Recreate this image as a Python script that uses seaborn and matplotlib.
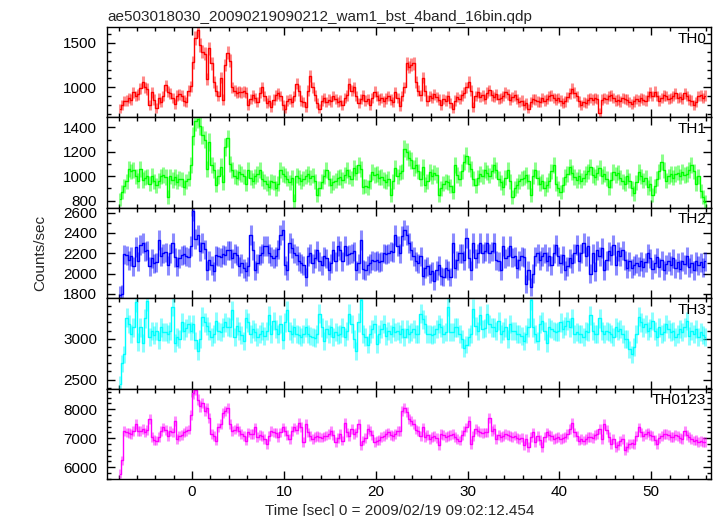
import numpy as np
import matplotlib
matplotlib.use("Agg")
import matplotlib.pyplot as plt
import seaborn as sns
from matplotlib.ticker import MultipleLocator

# ----- light curves, 0.25 s bins (counts/sec) -----
bin_size = 0.25
t_first = -7.875

th0 = [
    760, 800, 845, 850, 880, 860, 945, 900, 920, 990, 1060, 1000, 980, 800, 945, 860,
    765, 875, 830, 900, 1020, 950, 930, 880, 815, 905, 920, 905, 850, 835, 960, 1010,
    1280, 1560, 1650, 1480, 1400, 1380, 1090, 1440, 1270, 1060, 960, 900, 1110, 860, 1250, 1390,
    1300, 1000, 960, 940, 950, 945, 955, 940, 800, 870, 910, 880, 830, 940, 1000, 900,
    820, 850, 780, 860, 910, 930, 900, 800, 760, 850, 870, 830, 900, 1040, 960, 850,
    830, 780, 960, 1130, 1000, 910, 820, 760, 850, 880, 830, 860, 840, 900, 870, 830,
    850, 795, 880, 910, 1040, 960, 1000, 900, 820, 870, 910, 850, 870, 795, 880, 950,
    900, 860, 880, 840, 875, 900, 860, 830, 945, 880, 790, 900, 1000, 1270, 1230, 1255,
    1270, 1060, 960, 910, 1110, 960, 850, 900, 880, 920, 890, 860, 795, 870, 850, 900,
    820, 760, 850, 890, 870, 910, 940, 1000, 1060, 960, 780, 900, 945, 890, 910, 870,
    940, 965, 910, 890, 920, 870, 880, 900, 945, 920, 860, 890, 910, 870, 830, 850,
    795, 820, 760, 830, 870, 860, 840, 830, 880, 850, 870, 900, 910, 880, 860, 880,
    850, 820, 840, 890, 930, 985, 940, 900, 840, 795, 830, 820, 860, 880, 860, 880,
    870, 710, 860, 880, 870, 900, 910, 880, 850, 860, 840, 880, 870, 860, 830, 815,
    840, 870, 850, 880, 860, 850, 900, 945, 900, 950, 900, 850, 880, 910, 900, 870,
    880, 900, 930, 880, 890, 870, 930, 900, 860, 850, 800, 830, 900, 910, 880, 905,
]

th1 = [
    810, 870, 920, 960, 1060, 1040, 1050, 1000, 965, 1060, 970, 990, 1000, 940, 1005, 960,
    925, 965, 1000, 1010, 995, 830, 1000, 970, 995, 955, 980, 975, 910, 960, 980, 1090,
    1330, 1450, 1470, 1410, 1340, 1300, 1060, 1280, 1090, 1050, 930, 1000, 1080, 950, 1240, 1310,
    1100, 1050, 1000, 990, 1035, 1020, 1000, 940, 1050, 990, 965, 1000, 1020, 1050, 980, 960,
    940, 910, 960, 950, 900, 940, 1050, 1020, 1005, 980, 950, 990, 800, 1005, 990, 960,
    980, 1000, 1020, 990, 1005, 960, 845, 900, 955, 1000, 1050, 980, 925, 950, 965, 990,
    995, 970, 1010, 1050, 1000, 980, 1065, 1030, 1090, 1060, 915, 920, 910, 960, 1035, 1010,
    1020, 990, 995, 970, 955, 980, 845, 960, 1065, 1000, 1030, 1040, 1225, 1200, 1150, 1130,
    1070, 1090, 1040, 980, 1075, 930, 960, 1035, 1000, 1030, 1010, 845, 900, 940, 960, 950,
    920, 870, 1090, 1010, 980, 1040, 1115, 1170, 1100, 1060, 980, 925, 990, 1020, 1000, 1050,
    1030, 1005, 1040, 1090, 1050, 980, 950, 910, 990, 1050, 960, 830, 900, 925, 960, 980,
    990, 1010, 960, 845, 1000, 1050, 990, 940, 960, 900, 930, 965, 1040, 1090, 940, 900,
    870, 930, 995, 1020, 1075, 1030, 995, 970, 1000, 965, 990, 1020, 1040, 1075, 1010, 995,
    1030, 1065, 1000, 1020, 980, 910, 970, 1035, 1010, 1030, 990, 960, 940, 1000, 965, 900,
    860, 950, 1035, 1000, 965, 990, 910, 940, 845, 920, 980, 1040, 1115, 1050, 965, 1000,
    1020, 990, 1020, 1030, 1000, 1035, 1010, 1020, 1050, 1090, 1040, 940, 1000, 880, 830, 790,
]

th2 = [
    1790, 1800, 2190, 2180, 2130, 2170, 2070, 2260, 2120, 2280, 2300, 2220, 2230, 2070, 2150, 2100,
    2110, 2330, 2170, 2200, 2210, 2080, 2200, 2300, 2160, 2070, 2150, 2180, 2190, 2170, 2160, 2270,
    2620, 2340, 2380, 2220, 2300, 2240, 2030, 2130, 2080, 2020, 2180, 2170, 2160, 2190, 2180, 2230,
    2230, 2150, 2200, 2180, 2070, 2100, 2050, 2020, 2070, 2380, 2230, 2030, 2100, 2180, 2200, 2270,
    2270, 2200, 2170, 2150, 2170, 2240, 2380, 2430, 2080, 2030, 2300, 2250, 2200, 2180, 2120, 2100,
    2080, 1970, 2170, 2200, 2100, 2150, 2230, 2120, 2080, 2170, 2150, 2030, 2100, 2230, 2120, 2270,
    2230, 2120, 2270, 2180, 2190, 2200, 2220, 2030, 2100, 2330, 2040, 2030, 2080, 2100, 2130, 2120,
    2130, 2110, 2120, 2200, 2190, 2200, 2220, 2210, 2380, 2270, 2200, 2370, 2430, 2380, 2300, 2230,
    2170, 2120, 2100, 2170, 1980, 2050, 2070, 2000, 2020, 1930, 2030, 2080, 1980, 1970, 2050, 2030,
    1970, 2300, 2050, 2130, 2200, 2200, 2130, 2350, 2150, 2030, 2300, 2150, 2200, 2300, 2200, 2220,
    2300, 2200, 2220, 2300, 2130, 2120, 2030, 2270, 2150, 2170, 2270, 2160, 2170, 2050, 2130, 2170,
    2160, 1900, 2030, 1870, 2000, 2170, 2200, 2130, 2170, 2200, 2120, 2170, 2080, 2200, 2280, 2170,
    2100, 2180, 2030, 2070, 2150, 2100, 2200, 2280, 2120, 2200, 2300, 2170, 2270, 2000, 2200, 2020,
    2230, 2170, 2250, 2030, 2130, 2220, 2180, 2280, 2080, 2220, 2170, 2230, 2130, 2050, 2120, 2050,
    2080, 2100, 2070, 2120, 2060, 2110, 2200, 2150, 2040, 2100, 2160, 2060, 2130, 2030, 2090, 2120,
    2080, 2150, 2050, 2110, 2040, 2120, 2090, 2170, 2060, 2100, 2030, 2120, 2080, 2110, 2060, 2120,
]

th3 = [
    2440, 2700, 2810, 3260, 3180, 3060, 3140, 3450, 2960, 3140, 2950, 3250, 3460, 3020, 3100, 3050,
    3100, 2980, 3140, 3080, 3080, 3060, 3100, 3390, 2950, 3020, 3000, 3200, 3100, 3130, 3180, 3100,
    3180, 2980, 2850, 3000, 3270, 3200, 3160, 3100, 3020, 3060, 3220, 3100, 3080, 3140, 3200, 3150,
    3140, 3350, 3020, 3160, 3100, 3050, 2975, 3250, 3200, 3060, 3120, 3080, 3020, 3060, 3100, 3040,
    3100, 3290, 3060, 3220, 3120, 3060, 3180, 2980, 3200, 3350, 3100, 3060, 3140, 3060, 3050, 3020,
    3060, 3140, 3060, 3040, 3020, 3010, 3060, 3310, 3140, 2975, 3120, 3060, 3140, 3020, 3080, 3050,
    3060, 3140, 3020, 3100, 3310, 3180, 3000, 2850, 3200, 3470, 3060, 3020, 2930, 3060, 3120, 3180,
    2940, 3060, 3120, 3180, 3040, 3100, 3060, 3140, 3080, 3100, 3060, 3120, 3020, 3120, 3060, 3080,
    3120, 3060, 3060, 3310, 3240, 3180, 3060, 3060, 3050, 3060, 3120, 3180, 3140, 3060, 3080, 3390,
    3080, 3080, 3140, 3140, 3060, 3000, 2890, 2930, 3020, 3060, 3370, 3160, 3100, 3290, 3120, 3130,
    3310, 3180, 3140, 3140, 3100, 3220, 3060, 3100, 3140, 3000, 3180, 3100, 3100, 3060, 3060, 3040,
    2975, 3060, 3140, 3470, 3140, 3060, 2975, 3180, 3220, 3100, 2950, 3140, 3120, 3100, 3080, 3090,
    3200, 3120, 3160, 3220, 3140, 3250, 3060, 3080, 3060, 3060, 3020, 3100, 3080, 3290, 3100, 3060,
    3060, 3250, 3100, 3060, 3100, 3080, 3060, 3020, 3140, 3100, 3120, 3060, 3000, 3000, 2870, 2810,
    2900, 3060, 3270, 3200, 3140, 3180, 3100, 3130, 3220, 3100, 3020, 3140, 3060, 3080, 3180, 3120,
    3080, 3100, 3020, 3060, 3120, 3080, 3140, 3220, 3040, 3100, 3060, 3120, 3020, 3080, 3050, 3020,
]

th0123 = [
    5780, 6240, 7250, 7200, 7190, 7140, 7250, 7480, 7260, 7250, 7310, 7200, 7280, 7650, 7030, 6950,
    6920, 7030, 7250, 7370, 7290, 7080, 7250, 7200, 7590, 6970, 7080, 7100, 7200, 7250, 7300, 7800,
    8550, 8670, 8330, 8100, 8210, 7930, 8040, 7700, 7140, 7080, 6920, 7370, 7480, 7880, 7950, 8050,
    7480, 7260, 7300, 7370, 7250, 7150, 7080, 6920, 7200, 7140, 7150, 7370, 7030, 7100, 7080, 6980,
    6800, 7080, 7250, 7200, 7180, 7030, 7200, 7370, 7250, 7100, 6970, 7240, 7370, 7300, 7540, 7400,
    6860, 7480, 7200, 7080, 6970, 7040, 7080, 7030, 7020, 7060, 7090, 7140, 7250, 7100, 6860, 7000,
    7140, 6920, 7540, 7200, 7080, 7310, 7140, 7200, 7480, 6750, 6920, 7000, 7310, 7250, 7100, 6860,
    6920, 6950, 7030, 7080, 7150, 7200, 7100, 7080, 7150, 7250, 7250, 7930, 8050, 7900, 7650, 7580,
    7480, 7300, 7250, 7080, 7370, 7030, 7100, 6970, 7050, 7080, 7000, 6750, 7140, 7100, 7030, 7080,
    7100, 7140, 7050, 6970, 6920, 7100, 7250, 7370, 7590, 6800, 7080, 7310, 7250, 7200, 7180, 7200,
    7200, 7710, 7250, 7310, 6970, 7100, 7030, 7080, 7140, 7100, 7080, 7050, 7090, 7000, 6970, 7020,
    6750, 6970, 6690, 7030, 7200, 6860, 7080, 6950, 6690, 7030, 7200, 7100, 7080, 6980, 7000, 7030,
    6970, 7000, 7030, 7140, 7310, 7540, 7200, 7080, 6920, 6970, 6920, 6980, 7030, 7050, 7000, 7100,
    7140, 7310, 6970, 7480, 7300, 7030, 6800, 6970, 6690, 6750, 6900, 6970, 6580, 6700, 6800, 6820,
    6800, 7080, 7370, 7200, 7080, 7140, 7200, 7100, 7080, 6950, 6800, 7000, 7080, 7150, 7140, 7100,
    7050, 7030, 7100, 7080, 7000, 6970, 7250, 7100, 7030, 6980, 6920, 6950, 6860, 6900, 6880, 6870,
]

bands = ["TH0", "TH1", "TH2", "TH3", "TH0123"]
rates = [th0, th1, th2, th3, th0123]
colors = ["#ff0000", "#00ff00", "#0000ff", "#00ffff", "#ff00ff"]
ylims = [(660, 1680), (742, 1482), (1757, 2647), (2389, 3498), (5593, 8712)]
major_step = [500, 200, 200, 500, 1000]
minor_step = [100, 100, 100, 100, 200]

title = "ae503018030_20090219090212_wam1_bst_4band_16bin.qdp"
xlabel = "Time [sec] 0 = 2009/02/19 09:02:12.454"

sns.set_theme(style="ticks")
plt.rcParams["font.family"] = ["Liberation Sans", "DejaVu Sans"]

W, H = 717, 516
fig, axs = plt.subplots(5, 1, figsize=(W / 100, H / 100), dpi=100, sharex=True)
fig.subplots_adjust(left=107 / W, right=711 / W, top=1 - 27 / H, bottom=1 - 479 / H, hspace=0)

for ax, band, rate, c, yl, mj, mn in zip(axs, bands, rates, colors, ylims, major_step, minor_step):
    rate = np.array(rate, dtype=float)
    t = t_first + bin_size * np.arange(len(rate))
    err = np.sqrt(rate / bin_size)
    ax.vlines(t, rate - err, rate + err, color=c, alpha=0.45, lw=2.2)
    sns.lineplot(x=t, y=rate, ax=ax, color=c, lw=1.0, drawstyle="steps-mid",
                 estimator=None, sort=False)
    ax.set_ylim(*yl)
    ax.yaxis.set_major_locator(MultipleLocator(mj))
    ax.yaxis.set_minor_locator(MultipleLocator(mn))
    ax.text(0.992, 0.95, band, transform=ax.transAxes, ha="right", va="top",
            fontsize=11, color="black")
    ax.tick_params(which="both", direction="in", top=True, right=True,
                   colors="black", labelsize=11, width=1)
    ax.tick_params(which="major", length=6, pad=7)
    ax.tick_params(which="minor", length=3)
    for s in ax.spines.values():
        s.set_linewidth(1)
        s.set_color("black")
    ax.set_ylabel("")
    ax.set_xlabel("")

axs[-1].set_xlim(-9.26, 56.5)
axs[-1].xaxis.set_major_locator(MultipleLocator(10))
axs[-1].xaxis.set_minor_locator(MultipleLocator(2))
axs[-1].tick_params(axis="x", pad=4.5)

fig.text(107 / W, 1 - 21 / H, title, fontsize=11, ha="left", va="baseline")
fig.text(400 / W, 1.5 / H, xlabel, fontsize=11, ha="center", va="baseline")
fig.text(40 / W, 1 - 253 / H, "Counts/sec", fontsize=11, ha="center", va="center", rotation=90)

fig.savefig("out.png", dpi=100)
